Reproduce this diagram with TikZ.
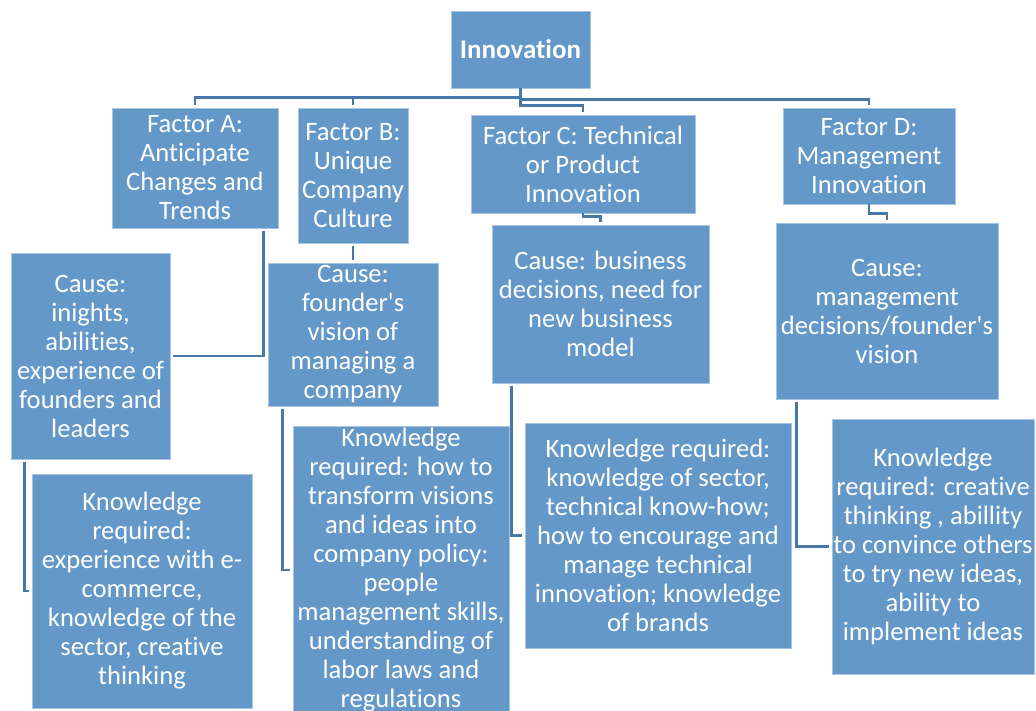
\documentclass[tikz,border=0pt]{standalone}
\usepackage{fontspec}
\setmainfont{Carlito}[Ligatures=NoCommon]
\definecolor{boxblue}{RGB}{99,152,200}
\definecolor{boxedge}{RGB}{168,198,226}
\definecolor{linkblue}{RGB}{72,120,170}
\newcommand{\apos}{\textquotesingle}
\begin{document}
\begin{tikzpicture}[x=1pt,y=-1pt,
  box/.style={fill=boxblue, draw=boxedge, line width=0.8pt, text=white,
    align=center, inner sep=0pt, font=\fontsize{26.6}{29}\selectfont},
  conn/.style={draw=linkblue, line width=2.4pt, shorten >=3pt},
  lower/.style={conn, shorten <=3pt}]
\useasboundingbox (0,0) rectangle (1036,711);
\clip (0,0) rectangle (1036,711);

% top of the hierarchy
\node[box, minimum width=139pt, minimum height=77pt, font=\fontsize{27}{29}\selectfont\bfseries]
  (inn) at (520.5,49.5) {Innovation};

% the four factors
\node[box, minimum width=166pt, minimum height=120pt] (fa) at (195,168)
  {Factor A:\\Anticipate\\Changes and\\Trends};
\node[box, minimum width=110pt, minimum height=135pt] (fb) at (353,175.5)
  {Factor B:\\Unique\\Company\\Culture};
\node[box, minimum width=224pt, minimum height=98pt] (fc) at (583,164)
  {Factor C: Technical\\or Product\\Innovation};
\node[box, minimum width=172pt, minimum height=96pt] (fd) at (869,156)
  {Factor D:\\Management\\Innovation};

% causes
\node[box, minimum width=159pt, minimum height=206pt] (ca) at (90.5,356)
  {Cause:\\inights,\\abilities,\\experience of\\founders and\\leaders};
\node[box, minimum width=170pt, minimum height=143pt] (cb) at (353,334.5)
  {Cause:\\founder\apos s\\vision of\\managing a\\company};
\node[box, minimum width=217pt, minimum height=158pt] (cc) at (600.5,304)
  {Cause: business\\decisions, need for\\new business\\model};
\node[box, minimum width=222pt, minimum height=176pt] (cd) at (887,311)
  {Cause:\\management\\decisions/founder\apos s\\vision};

% knowledge required
\node[box, minimum width=220pt, minimum height=234pt] (ka) at (142,591)
  {Knowledge\\required:\\experience with e-\\commerce,\\knowledge of the\\sector, creative\\thinking};
\node[box, minimum width=216pt, minimum height=288pt] (kb) at (401,570)
  {Knowledge\\required: how to\\transform visions\\and ideas into\\company policy:\\people\\management skills,\\understanding of\\labor laws and\\regulations};
\node[box, minimum width=266pt, minimum height=225pt] (kc) at (658,535.5)
  {Knowledge required:\\knowledge of sector,\\technical know-how;\\how to encourage and\\manage technical\\innovation; knowledge\\of brands};
\node[box, minimum width=202pt, minimum height=255pt] (kd) at (933,546.5)
  {Knowledge\\required: creative\\thinking , abillity\\to convince others\\to try new ideas,\\ability to\\implement ideas};

% bus from the top box to the factors
\draw[conn] (inn.south) -- ++(0,9) -| (fa.north);
\draw[conn] (inn.south) -- ++(0,9) -| (fb.north);
\draw[conn] (inn.south) -- ++(0,11) -| (fd.north);
\draw[conn] (inn.south) -- ++(0,17) -| (fc.north);

% factors to causes
\draw[lower] ([xshift=-15pt]fa.south east) |- (ca.east);
\draw[lower] (fb.south) -- (cb.north);
\draw[conn] (fc.south) -- ++(0,3) -| (cc.north);
\draw[conn] (fd.south) -- ++(0,9) -| (cd.north);

% causes to knowledge
\draw[lower] ([xshift=14pt]ca.south west) |- (ka.west);
\draw[lower] ([xshift=15pt]cb.south west) |- (kb.west);
\draw[lower] ([xshift=20pt]cc.south west) |- (kc.west);
\draw[lower] ([xshift=21pt]cd.south west) |- (kd.west);
\end{tikzpicture}
\end{document}
